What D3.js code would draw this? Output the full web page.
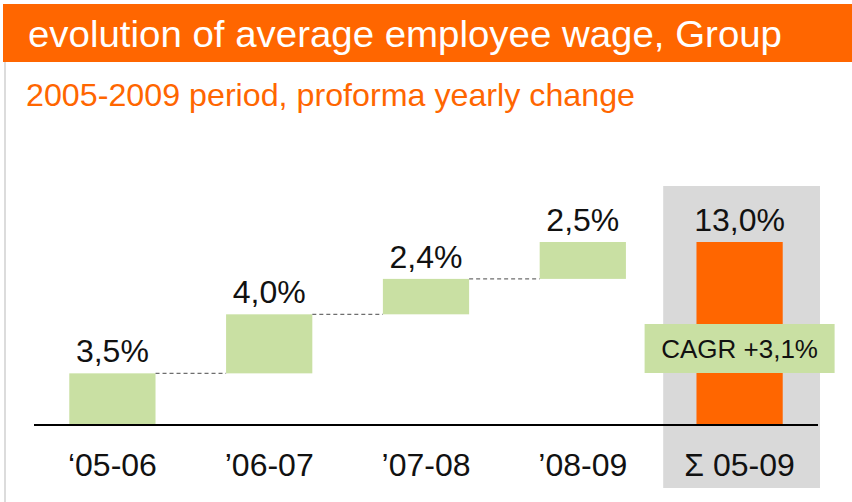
<!DOCTYPE html>
<html>
<head>
<meta charset="utf-8">
<script src="https://cdn.jsdelivr.net/npm/d3@7/dist/d3.min.js"></script>
<style>
  html, body { margin: 0; padding: 0; background: #fff; }
  svg { display: block; font-family: "Liberation Sans", Arial, Helvetica, sans-serif; }
</style>
</head>
<body>
<svg id="chart" width="852" height="502"></svg>
<script>
// yearly changes (waterfall steps) and the period total
const categories = ["\u201805-06", "\u201906-07", "\u201907-08", "\u201908-09", "\u03A3 05-09"];
const steps = [3.5, 4.0, 2.4, 2.5];
const total = 13.0;
const cagr = 3.1;

const ORANGE = "#ff6600";
const GREEN = "#c9e0a3";
const GREY = "#d9d9d9";

const fmt = v => d3.format(".1f")(v).replace(".", ",") + "%";

const svg = d3.select("#chart");

// left rule + title band
svg.append("line")
  .attr("x1", 5).attr("x2", 5).attr("y1", 62).attr("y2", 502)
  .attr("stroke", "#dcdcdc").attr("stroke-width", 2);

svg.append("rect")
  .attr("x", 3).attr("y", 4).attr("width", 849).attr("height", 58)
  .attr("fill", ORANGE);

svg.append("text")
  .attr("x", 28).attr("y", 47)
  .attr("font-size", 37)
  .attr("fill", "#fff")
  .attr("textLength", 754)
  .attr("lengthAdjust", "spacingAndGlyphs")
  .text("evolution of average employee wage, Group");

svg.append("text")
  .attr("x", 26).attr("y", 106)
  .attr("font-size", 32)
  .attr("fill", ORANGE)
  .attr("textLength", 609)
  .attr("lengthAdjust", "spacingAndGlyphs")
  .text("2005-2009 period, proforma yearly change");

// scales
const x = d3.scaleBand()
  .domain(categories)
  .range([34, 818])
  .paddingInner(0.45)
  .paddingOuter(0.225);

// cumulative positions of the waterfall
const ends = d3.cumsum(steps);
const starts = ends.map((e, i) => e - steps[i]);

const y = d3.scaleLinear()
  .domain([0, ends[ends.length - 1]])
  .range([425, 242]);

const bw = x.bandwidth();
const last = categories[categories.length - 1];

// grey highlight behind the total column
const gap = x.step() - bw;
svg.append("rect")
  .attr("x", x(last) - gap / 2 + 2)
  .attr("y", 186)
  .attr("width", x.step())
  .attr("height", 302)
  .attr("fill", GREY);

// step bars
svg.selectAll(".step")
  .data(steps)
  .join("rect")
  .attr("class", "step")
  .attr("x", (d, i) => x(categories[i]))
  .attr("y", (d, i) => y(ends[i]))
  .attr("width", bw)
  .attr("height", (d, i) => y(starts[i]) - y(ends[i]))
  .attr("fill", GREEN);

// dashed connectors
svg.selectAll(".conn")
  .data(steps.slice(0, -1))
  .join("line")
  .attr("class", "conn")
  .attr("x1", (d, i) => x(categories[i]) + bw)
  .attr("x2", (d, i) => x(categories[i + 1]))
  .attr("y1", (d, i) => y(ends[i]))
  .attr("y2", (d, i) => y(ends[i]))
  .attr("stroke", "#6e6e6e")
  .attr("stroke-width", 1.3)
  .attr("stroke-dasharray", "4,3");

// total bar, reaching the end of the waterfall
svg.append("rect")
  .attr("x", x(last))
  .attr("y", y(ends[ends.length - 1]))
  .attr("width", bw)
  .attr("height", y(0) - y(ends[ends.length - 1]))
  .attr("fill", ORANGE);

// value labels
const labels = steps.map((d, i) => ({ v: d, top: ends[i], c: categories[i] }))
  .concat([{ v: total, top: ends[ends.length - 1], c: last }]);

svg.selectAll(".vlab")
  .data(labels)
  .join("text")
  .attr("class", "vlab")
  .attr("x", d => x(d.c) + bw / 2)
  .attr("y", d => y(d.top) - 11)
  .attr("text-anchor", "middle")
  .attr("font-size", 32)
  .attr("fill", "#111")
  .text(d => fmt(d.v));

// baseline
svg.append("line")
  .attr("x1", 34).attr("x2", 818)
  .attr("y1", y(0)).attr("y2", y(0))
  .attr("stroke", "#000").attr("stroke-width", 2);

// category labels
svg.selectAll(".clab")
  .data(categories)
  .join("text")
  .attr("class", "clab")
  .attr("x", d => x(d) + bw / 2)
  .attr("y", 476)
  .attr("text-anchor", "middle")
  .attr("font-size", 32)
  .attr("fill", "#111")
  .text(d => d);

// CAGR callout over the total bar
const cx = x(last) + bw / 2;
svg.append("rect")
  .attr("x", cx - 95).attr("y", 324)
  .attr("width", 190).attr("height", 49)
  .attr("fill", GREEN);

svg.append("text")
  .attr("x", cx).attr("y", 358)
  .attr("text-anchor", "middle")
  .attr("font-size", 26)
  .attr("fill", "#111")
  .text("CAGR +" + fmt(cagr));
</script>
</body>
</html>
